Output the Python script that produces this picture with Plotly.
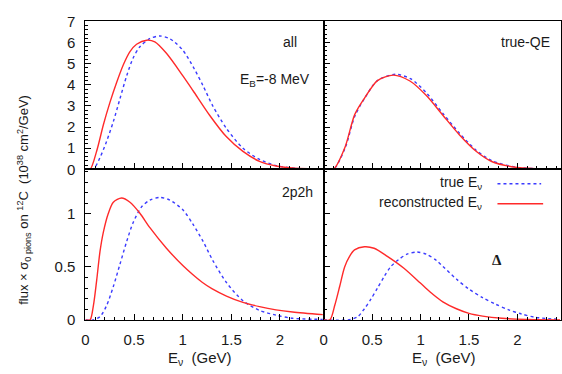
import plotly.graph_objects as go

W, H = 562, 374

# ---------------- data ----------------
# panel "all"
all_true_x = [0.0, 0.08, 0.15, 0.218, 0.287, 0.355, 0.423, 0.49, 0.56, 0.66, 0.765, 0.868, 1.0, 1.12, 1.21, 1.31, 1.448, 1.62, 1.79, 1.96, 2.13, 2.3, 2.45]
all_true_y = [0.0, 0.0, 0.56, 1.33, 2.26, 3.34, 4.41, 5.26, 5.8, 6.18, 6.31, 6.18, 5.65, 4.75, 3.95, 3.0, 1.95, 1.0, 0.47, 0.18, 0.06, 0.02, 0.01]
all_reco_x = [0.0, 0.048, 0.116, 0.184, 0.253, 0.32, 0.39, 0.458, 0.526, 0.63, 0.714, 0.833, 1.004, 1.107, 1.277, 1.448, 1.62, 1.79, 1.96, 2.13, 2.3, 2.45]
all_reco_y = [0.0, 0.0, 0.87, 2.10, 3.18, 4.10, 4.95, 5.57, 5.92, 6.11, 6.03, 5.49, 4.41, 3.72, 2.56, 1.55, 0.85, 0.38, 0.16, 0.07, 0.03, 0.01]

# panel "true-QE"
qe_true_x = [0.0, 0.1, 0.22, 0.32, 0.42, 0.555, 0.74, 0.9, 1.06, 1.23, 1.40, 1.57, 1.74, 1.98, 2.2, 2.45]
qe_true_y = [0.0, 0.0, 1.0, 2.5, 3.35, 4.2, 4.5, 4.28, 3.62, 2.65, 1.72, 0.92, 0.4, 0.11, 0.03, 0.01]
qe_reco_x = [0.0, 0.1, 0.22, 0.32, 0.42, 0.555, 0.72, 0.89, 1.06, 1.23, 1.40, 1.57, 1.74, 1.98, 2.2, 2.45]
qe_reco_y = [0.0, 0.0, 1.05, 2.59, 3.36, 4.2, 4.46, 4.18, 3.49, 2.56, 1.64, 0.87, 0.36, 0.1, 0.03, 0.01]

# panel "2p2h"
mp_true_x = [0.0, 0.08, 0.15, 0.218, 0.287, 0.355, 0.423, 0.49, 0.577, 0.663, 0.765, 0.868, 1.004, 1.107, 1.21, 1.31, 1.448, 1.62, 1.79, 1.96, 2.13, 2.44]
mp_true_y = [0.0, 0.0, 0.03, 0.135, 0.315, 0.525, 0.736, 0.916, 1.066, 1.13, 1.156, 1.13, 1.036, 0.9, 0.74, 0.56, 0.355, 0.18, 0.09, 0.045, 0.015, 0.005]
mp_reco_x = [0.0, 0.048, 0.082, 0.116, 0.15, 0.184, 0.236, 0.287, 0.372, 0.458, 0.56, 0.663, 0.833, 1.004, 1.1, 1.2, 1.3, 1.45, 1.62, 1.79, 1.96, 2.13, 2.44]
mp_reco_y = [0.0, 0.0, 0.135, 0.375, 0.646, 0.826, 1.006, 1.11, 1.15, 1.11, 1.006, 0.87, 0.676, 0.51, 0.43, 0.355, 0.295, 0.225, 0.165, 0.125, 0.095, 0.075, 0.05]

# panel "Delta"
de_true_x = [0.0, 0.25, 0.352, 0.42, 0.487, 0.555, 0.622, 0.69, 0.775, 0.86, 0.96, 1.06, 1.165, 1.23, 1.37, 1.50, 1.64, 1.77, 1.91, 2.04, 2.18, 2.35, 2.44]
de_true_y = [0.0, 0.0, 0.03, 0.105, 0.195, 0.30, 0.405, 0.50, 0.57, 0.62, 0.64, 0.62, 0.56, 0.505, 0.385, 0.29, 0.21, 0.15, 0.095, 0.056, 0.025, 0.01, 0.005]
de_reco_x = [0.0, 0.064, 0.115, 0.166, 0.216, 0.267, 0.318, 0.42, 0.52, 0.657, 0.825, 0.995, 1.096, 1.23, 1.37, 1.50, 1.64, 1.84, 2.1, 2.44]
de_reco_y = [0.0, 0.0, 0.14, 0.32, 0.50, 0.60, 0.66, 0.69, 0.676, 0.60, 0.49, 0.35, 0.265, 0.17, 0.105, 0.062, 0.036, 0.015, 0.004, 0.0]

x_ticks = [0, 0.5, 1, 1.5, 2]
x_tick_labels = ["0", "0.5", "1", "1.5", "2"]
y_top_ticks = [0, 1, 2, 3, 4, 5, 6, 7]
y_bot_ticks = [0, 0.5, 1]
y_bot_labels = ["0", "0.5", "1"]

panel_labels = ["all", "true-QE", "2p2h", "Δ"]
legend_labels = ["true E<sub>ν</sub>", "reconstructed E<sub>ν</sub>"]

# ---------------- style ----------------
BLUE = "#3b3bff"
RED = "#ff2a2a"
FONT = "Liberation Sans, Arial, Helvetica, sans-serif"
TXT = "#1a1a1a"

def px(x):
    return x / W

def py(y):
    return 1 - y / H

XL = (82, 322)
XR = (322, 561)
YT = (13, 168)
YB = (168, 325.7)

fig = go.Figure()

panels = [
    ("x", "y", all_true_x, all_true_y, all_reco_x, all_reco_y),
    ("x2", "y2", qe_true_x, qe_true_y, qe_reco_x, qe_reco_y),
    ("x3", "y3", mp_true_x, mp_true_y, mp_reco_x, mp_reco_y),
    ("x4", "y4", de_true_x, de_true_y, de_reco_x, de_reco_y),
]
for xa, ya, tx, ty, rx, ry in panels:
    fig.add_trace(go.Scatter(x=tx, y=ty, xaxis=xa, yaxis=ya, mode="lines",
                             line=dict(color=BLUE, width=1.4, dash="3px,3px", shape="spline", smoothing=0.8),
                             showlegend=False, hoverinfo="skip"))
    fig.add_trace(go.Scatter(x=rx, y=ry, xaxis=xa, yaxis=ya, mode="lines",
                             line=dict(color=RED, width=1.4, shape="spline", smoothing=0.8),
                             showlegend=False, hoverinfo="skip"))

tickfont = dict(family=FONT, size=15, color=TXT)

def xaxis(dom, anchor, labels, side="bottom", overlay=None):
    d = dict(domain=[px(dom[0]), px(dom[1])], anchor=anchor, range=[0, 2.45], side=side,
             showline=overlay is None, linecolor="black", linewidth=1, mirror=True,
             ticks="inside", ticklen=6, tickwidth=1, tickcolor="black",
             tickvals=x_ticks, ticktext=x_tick_labels,
             showticklabels=labels, showgrid=False, zeroline=False,
             minor=dict(dtick=0.1, tick0=0, ticks="inside", ticklen=3, tickwidth=1, tickcolor="black", showgrid=False),
             tickfont=tickfont, ticklabelstandoff=6)
    if overlay:
        d["overlaying"] = overlay
    return d

def yaxis(dom, anchor, rng, tv, tt, minor, labels, side="left", overlay=None):
    d = dict(domain=[py(dom[1]), py(dom[0])], anchor=anchor, range=rng, side=side,
             showline=overlay is None, linecolor="black", linewidth=1, mirror=True,
             ticks="inside", ticklen=6, tickwidth=1, tickcolor="black",
             tickvals=tv, ticktext=tt, showticklabels=labels, showgrid=False, zeroline=False,
             minor=dict(dtick=minor, tick0=0, ticks="inside", ticklen=3, tickwidth=1, tickcolor="black", showgrid=False),
             tickfont=tickfont, ticklabelstandoff=6)
    if overlay:
        d["overlaying"] = overlay
    return d

ytl = [str(v) for v in y_top_ticks]
fig.update_layout(
    width=W, height=H, margin=dict(l=0, r=0, t=0, b=0),
    paper_bgcolor="white", plot_bgcolor="white",
    xaxis=xaxis(XL, "y", False),
    xaxis2=xaxis(XR, "y2", False),
    xaxis3=xaxis(XL, "y3", True),
    xaxis4=xaxis(XR, "y4", True),
    yaxis=yaxis(YT, "x", [0, 7], y_top_ticks, ytl, 0.2, True),
    yaxis2=yaxis(YT, "x2", [0, 7], y_top_ticks, ytl, 0.2, False),
    yaxis3=yaxis(YB, "x3", [0, 1.42], y_bot_ticks, y_bot_labels, 0.1, True),
    yaxis4=yaxis(YB, "x4", [0, 1.42], y_bot_ticks, y_bot_labels, 0.1, False),
    # mirrored tick axes (top / right of every panel)
    xaxis5=xaxis(XL, "y", False, "top", "x"),
    xaxis6=xaxis(XR, "y2", False, "top", "x2"),
    xaxis7=xaxis(XL, "y3", False, "top", "x3"),
    xaxis8=xaxis(XR, "y4", False, "top", "x4"),
    yaxis5=yaxis(YT, "x", [0, 7], y_top_ticks, ytl, 0.2, False, "right", "y"),
    yaxis6=yaxis(YT, "x2", [0, 7], y_top_ticks, ytl, 0.2, False, "right", "y2"),
    yaxis7=yaxis(YB, "x3", [0, 1.42], y_bot_ticks, y_bot_labels, 0.1, False, "right", "y3"),
    yaxis8=yaxis(YB, "x4", [0, 1.42], y_bot_ticks, y_bot_labels, 0.1, False, "right", "y4"),
)

ann = []
def add_text(x, y, text, xanchor="center", size=14, family=FONT, angle=0, yanchor="middle"):
    ann.append(dict(x=px(x), y=py(y), xref="paper", yref="paper", text=text, showarrow=False,
                    xanchor=xanchor, yanchor=yanchor, textangle=angle,
                    font=dict(family=family, size=size, color=TXT)))

add_text(297, 35, panel_labels[0], "right")
add_text(310, 74, "E<sub>B</sub>=-8 MeV", "right")
add_text(552, 35, panel_labels[1], "right")
add_text(313, 192, panel_labels[2], "right")
add_text(497, 263, "<b>" + panel_labels[3] + "</b>", "center", 15, "Liberation Serif, serif")
add_text(483, 182, legend_labels[0], "right")
add_text(483, 203, legend_labels[1], "right")
add_text(197, 354, "E<sub>ν</sub>  (GeV)", "center", 15, yanchor="top")
add_text(443, 354, "E<sub>ν</sub>  (GeV)", "center", 15, yanchor="top")
add_text(20, 200, "flux × σ<sub>0 pions</sub> on <sup>12</sup>C  (10<sup>38</sup> cm<sup>2</sup>/GeV)",
         "center", 13, FONT, -90)
fig.update_layout(annotations=ann)

fig.add_shape(type="line", xref="paper", yref="paper", x0=px(497), x1=px(541), y0=py(183), y1=py(183),
              line=dict(color=BLUE, width=1.4, dash="3px,3px"))
fig.add_shape(type="line", xref="paper", yref="paper", x0=px(497), x1=px(543), y0=py(204), y1=py(204),
              line=dict(color=RED, width=1.4))

fig.write_html("out.html")
